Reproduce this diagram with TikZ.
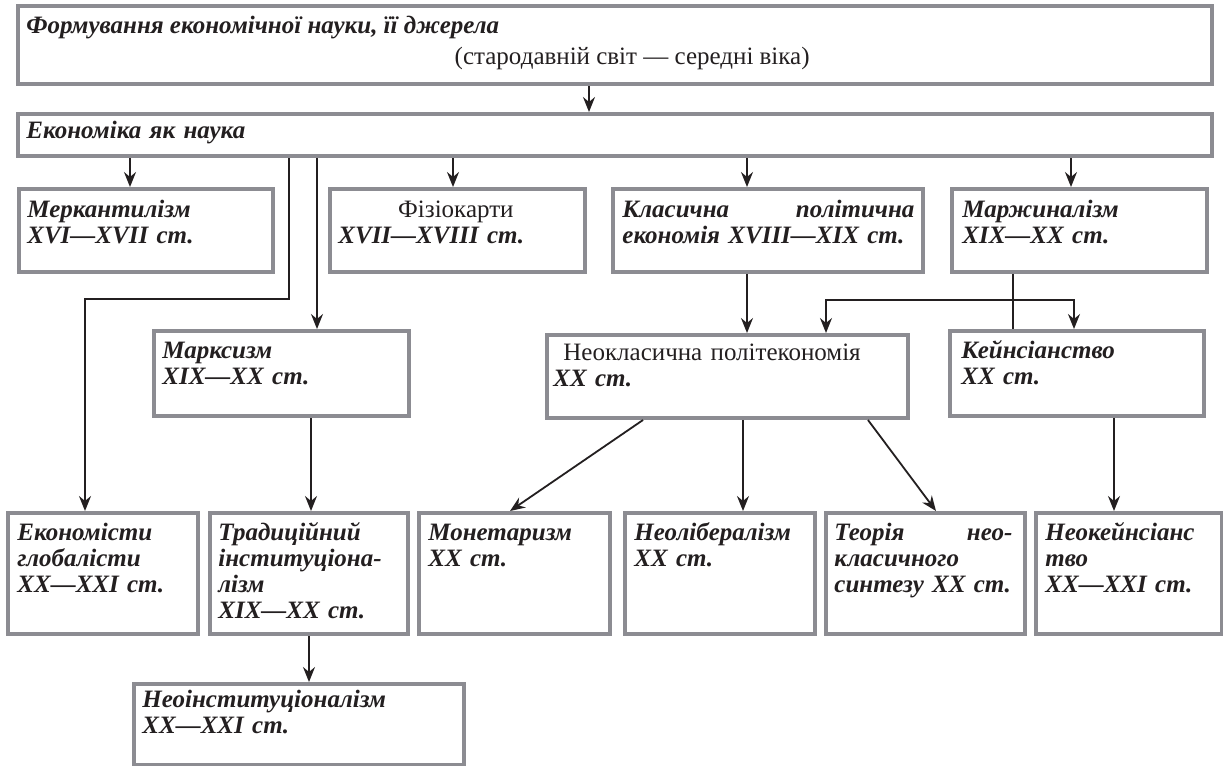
\documentclass[tikz,border=0pt]{standalone}
\usepackage{fontspec}
\setmainfont{Liberation Serif}
\usetikzlibrary{arrows.meta}
\definecolor{boxgray}{RGB}{140,140,146}
\definecolor{ink}{RGB}{35,31,32}
\newcommand\mybox[5]{\node[box, minimum width={(#4-#2)*0.5pt}, minimum height={(#5-#3)*0.5pt}] (#1) at (#2,#3) {};}
\begin{document}
\begin{tikzpicture}[x=0.5pt,y=-0.5pt,
  box/.style={draw=boxgray, line width=2pt, fill=white, anchor=north west, inner sep=0pt},
  lbl/.style={anchor=base west, inner sep=0pt, align=left, text=ink, text width=200pt,
    font=\fontsize{12.5}{13}\selectfont\bfseries\itshape},
  conn/.style={draw=ink, line width=0.9pt},
  arr/.style={conn, -{Stealth[length=7.5pt,width=6pt,inset=2.5pt]}}]
\useasboundingbox (0,0) rectangle (1223,766);
\fill[white] (0,0) rectangle (1223,766);
% boxes
\mybox{top}{16}{4}{1210}{82}
\mybox{ek}{16}{112}{1210}{154}
\mybox{mer}{17}{187}{271}{270}
\mybox{fiz}{328}{187}{583}{270}
\mybox{kla}{611}{187}{921}{270}
\mybox{mar}{950}{187}{1205}{270}
\mybox{marx}{152}{329}{407}{414}
\mybox{neo}{545}{333}{906}{416}
\mybox{keyn}{948}{329}{1202}{414}
\mybox{glob}{6}{511}{196}{632}
\mybox{trad}{208}{511}{406}{632}
\mybox{mon}{417}{511}{608}{632}
\mybox{neol}{623}{511}{813}{632}
\mybox{teor}{824}{511}{1023}{632}
\mybox{neok}{1034}{511}{1220}{632}
\mybox{neoi}{132}{682}{462}{763}
% labels
\node[lbl, text width=] (t-top1) at (26,33) {Формування економічної науки, її джерела};
\node[lbl, text width=, anchor=base east, font=\fontsize{12.5}{13}\selectfont] (t-top2) at (810,64) {(стародавній світ — середні віка)};
\node[lbl] (t-ek) at (26,138) {Економіка як наука};
\node[lbl] (t-mer) at (27,217) {Меркантилізм\\XVI—XVII ст.};
\node[lbl, text width=117.5pt] (t-fiz) at (338,217) {\makebox[\linewidth]{\normalfont Фізіокарти}\\XVII—XVIII ст.};
\node[lbl, text width=146pt] (t-kla) at (622,217) {Класична\hfill політична\\економія XVIII—XIX ст.};
\node[lbl] (t-mar) at (962,217) {Маржиналізм\\XIX—XX ст.};
\node[lbl] (t-marx) at (162,358) {Марксизм\\XIX—XX ст.};
\node[lbl] (t-neo) at (553,360) {\hspace*{5pt}{\normalfont Неокласична політекономія}\\XX ст.};
\node[lbl] (t-keyn) at (961,358) {Кейнсіанство\\XX ст.};
\node[lbl] (t-glob) at (17,540) {Економісти\\глобалісти\\XX—XXI ст.};
\node[lbl] (t-trad) at (218,540) {Традиційний\\інституціона-\\лізм\\XIX—XX ст.};
\node[lbl] (t-mon) at (428,540) {Монетаризм\\XX ст.};
\node[lbl] (t-neol) at (634,540) {Неолібералізм\\XX ст.};
\node[lbl, text width=89pt] (t-teor) at (834,540) {Теорія\hfill нео-\\класичного\\синтезу XX ст.};
\node[lbl] (t-neok) at (1045,540) {Неокейнсіанс\\тво\\XX—XXI ст.};
\node[lbl] (t-neoi) at (142,707) {Неоінституціоналізм\\XX—XXI ст.};
% connector coordinates
\coordinate (xa) at (589,0);
\coordinate (xb) at (130,0);
\coordinate (xc) at (453,0);
\coordinate (xd) at (747,0);
\coordinate (xe) at (1071,0);
\coordinate (xg1) at (289,0);
\coordinate (xg2) at (85,0);
\coordinate (yb) at (0,299);
\coordinate (xmx) at (317,0);
\coordinate (xm) at (1013,0);
\coordinate (yh) at (0,300);
\coordinate (xn) at (826,0);
\coordinate (xk) at (1074,0);
\coordinate (xt) at (311,0);
\coordinate (xmo1) at (643,0);
\coordinate (xmo2) at (510,0);
\coordinate (xnl) at (743,0);
\coordinate (xte1) at (868,0);
\coordinate (xte2) at (936,0);
\coordinate (xkn) at (1114,0);
\coordinate (xni) at (309,0);
% connectors
\draw[arr] (top.south -| xa) -- (ek.north -| xa);
\draw[arr] (ek.south -| xb) -- (mer.north -| xb);
\draw[arr] (ek.south -| xc) -- (fiz.north -| xc);
\draw[arr] (ek.south -| xd) -- (kla.north -| xd);
\draw[arr] (ek.south -| xe) -- (mar.north -| xe);
\draw[arr] (ek.south -| xg1) -- (xg1 |- yb) -- (xg2 |- yb) -- (glob.north -| xg2);
\draw[arr] (ek.south -| xmx) -- (marx.north -| xmx);
\draw[arr] (kla.south -| xd) -- (neo.north -| xd);
\draw[conn] (mar.south -| xm) -- (keyn.north -| xm);
\draw[arr] (xm |- yh) -- (xn |- yh) -- (neo.north -| xn);
\draw[arr] (xm |- yh) -- (xk |- yh) -- (keyn.north -| xk);
\draw[arr] (marx.south -| xt) -- (trad.north -| xt);
\draw[arr] (neo.south -| xmo1) -- (mon.north -| xmo2);
\draw[arr] (neo.south -| xnl) -- (neol.north -| xnl);
\draw[arr] (neo.south -| xte1) -- (teor.north -| xte2);
\draw[arr] (keyn.south -| xkn) -- (neok.north -| xkn);
\draw[arr] (trad.south -| xni) -- (neoi.north -| xni);
\end{tikzpicture}
\end{document}
